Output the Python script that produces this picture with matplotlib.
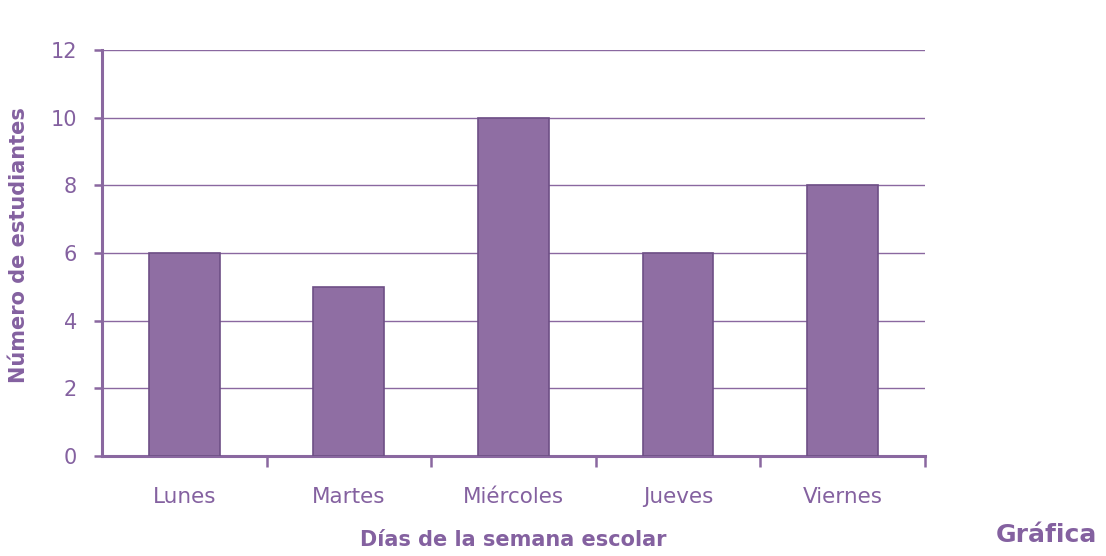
import matplotlib.pyplot as plt
import numpy as np

# data
dias = ['Lunes', 'Martes', 'Miércoles', 'Jueves', 'Viernes']
estudiantes = [6, 5, 10, 6, 8]
y_ticks = [0, 2, 4, 6, 8, 10, 12]

PURPLE = '#8a68a0'
BAR = '#8f6ea3'
EDGE = '#6e4f86'
TEXT = '#8461a0'


def draw_chart():
    plt.rcParams['font.family'] = 'DejaVu Sans'

    fig = plt.figure(figsize=(11.06, 5.56), dpi=100)
    ax = fig.add_axes([0.0922, 0.1799, 0.7441, 0.7302])

    x = np.arange(len(dias))
    ax.bar(x, estudiantes, width=0.43, color=BAR, edgecolor=EDGE, linewidth=1.2, zorder=3)

    ax.set_xlim(-0.5, len(dias) - 0.5)
    ax.set_ylim(0, 12)
    ax.set_yticks(y_ticks)
    ax.set_yticklabels([str(v) for v in y_ticks], fontsize=15, color=TEXT)
    ax.grid(axis='y', color=PURPLE, linewidth=1.0, zorder=0)

    # category labels centred, tick marks on the boundaries
    ax.set_xticks(x)
    ax.set_xticklabels(dias, fontsize=15.5, color=TEXT)
    ax.set_xticks(x + 0.5, minor=True)
    ax.tick_params(axis='x', which='major', length=0, pad=22)
    ax.tick_params(axis='x', which='minor', length=8, width=1.8, color=PURPLE, direction='out')
    ax.tick_params(axis='y', length=6, width=1.8, color=PURPLE, direction='out', pad=12)

    for side in ['top', 'right']:
        ax.spines[side].set_visible(False)
    for side in ['left', 'bottom']:
        ax.spines[side].set_color(PURPLE)
        ax.spines[side].set_linewidth(2.2)

    ax.set_ylabel('Número de estudiantes', fontsize=15, fontweight='bold', color=TEXT, va='center')
    ax.yaxis.set_label_coords(-0.101, 0.52)
    ax.set_xlabel('Días de la semana escolar', fontsize=15, fontweight='bold', color=TEXT, labelpad=17)

    fig.text(0.992, 0.038, 'Gráfica', fontsize=18, fontweight='bold', color=TEXT,
             ha='right', va='center')

    fig.savefig('out.png', dpi=100)
    plt.close(fig)


if __name__ == "__main__":
    draw_chart()
